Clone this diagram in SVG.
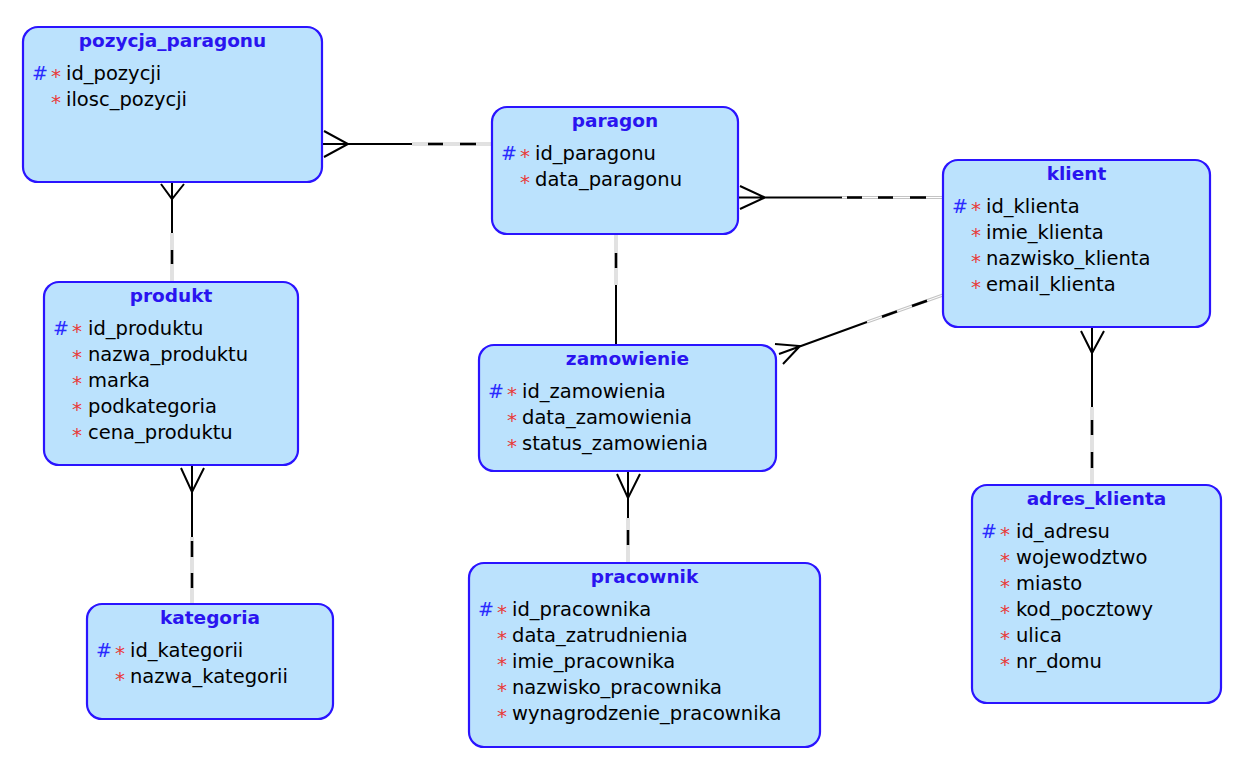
<svg xmlns="http://www.w3.org/2000/svg" width="1248" height="764" viewBox="0 0 1248 764">
<style>
.box{fill:#bbe2fd;stroke:#2a14ff;stroke-width:2.2}
.title{font-family:"DejaVu Sans",sans-serif;font-weight:bold;font-size:18.5px;fill:#2a14f0;text-anchor:middle}
.attr{font-family:"DejaVu Sans",sans-serif;font-size:19.5px;fill:#000}
.hash{font-family:"DejaVu Sans",sans-serif;font-size:19px;fill:#2a2aff}
.star{font-family:"DejaVu Sans",sans-serif;font-size:20px;fill:#e83a3a}
.solid{stroke:#000;stroke-width:2;fill:none}
.optbg{stroke:#c4c4c4;stroke-width:3;fill:none}
.optmid{stroke:#fff;stroke-width:1;fill:none}
.dash{stroke:#000;stroke-width:2.5;fill:none}
</style>
<rect width="1248" height="764" fill="#fff"/>
<g id="connectors">
  <!-- pozycja_paragonu - paragon -->
  <line class="optbg" x1="412" y1="144" x2="492" y2="144"/><line class="optmid" x1="412" y1="144" x2="492" y2="144"/>
  <path class="dash" d="M428,144H443M460,144H476"/>
  <path class="solid" d="M322,144H412M324,131L348,144L324,157"/>
  <!-- paragon - klient -->
  <line class="optbg" x1="842" y1="197.5" x2="943" y2="197.5"/><line class="optmid" x1="842" y1="197.5" x2="943" y2="197.5"/>
  <path class="dash" d="M847,197.5H862M878,197.5H893M910,197.5H926"/>
  <path class="solid" d="M738,197.5H842M740,186L765,197.5L740,209"/>
  <!-- zamowienie - klient -->
  <line class="optbg" x1="867" y1="322" x2="943" y2="295"/><line class="optmid" x1="867" y1="322" x2="943" y2="295"/>
  <path class="dash" d="M882,316.7L897,311.4M912,306L927,300.7"/>
  <path class="solid" d="M779,354L867,322M775,344L800,346L783,364"/>
  <!-- pozycja_paragonu - produkt -->
  <line class="optbg" x1="172" y1="233" x2="172" y2="282"/><line class="optmid" x1="172" y1="233" x2="172" y2="282"/>
  <path class="dash" d="M172,250V264"/>
  <path class="solid" d="M172,182V233M161,184L172,199L184,184"/>
  <!-- paragon - zamowienie -->
  <line class="optbg" x1="616" y1="234" x2="616" y2="285"/><line class="optmid" x1="616" y1="234" x2="616" y2="285"/>
  <path class="dash" d="M616,253V268"/>
  <path class="solid" d="M616,285V345"/>
  <!-- produkt - kategoria -->
  <line class="optbg" x1="192" y1="537" x2="192" y2="604"/><line class="optmid" x1="192" y1="537" x2="192" y2="604"/>
  <path class="dash" d="M192,541V557M192,573V588"/>
  <path class="solid" d="M192,465V537M181,468L192,492L204,468"/>
  <!-- zamowienie - pracownik -->
  <line class="optbg" x1="628" y1="518" x2="628" y2="563"/><line class="optmid" x1="628" y1="518" x2="628" y2="563"/>
  <path class="dash" d="M628,530V545"/>
  <path class="solid" d="M628,471V518M617,474L628,498L640,474"/>
  <!-- klient - adres_klienta -->
  <line class="optbg" x1="1092" y1="407" x2="1092" y2="485"/><line class="optmid" x1="1092" y1="407" x2="1092" y2="485"/>
  <path class="dash" d="M1092,420V435M1092,452V468"/>
  <path class="solid" d="M1092,327V407M1081,331L1092,353L1104,331"/>
</g>
<g id="pozycja_paragonu">
  <rect class="box" x="23" y="27" width="299" height="155" rx="15"/>
  <text class="title" x="172.5" y="47">pozycja_paragonu</text>
  <text class="hash" x="32" y="80">#</text><text class="star" x="51" y="83">*</text><text class="attr" x="66" y="80">id_pozycji</text>
  <text class="star" x="51" y="109">*</text><text class="attr" x="66" y="106">ilosc_pozycji</text>
</g>
<g id="paragon">
  <rect class="box" x="492" y="107" width="246" height="127" rx="15"/>
  <text class="title" x="615" y="127">paragon</text>
  <text class="hash" x="501" y="160">#</text><text class="star" x="520" y="163">*</text><text class="attr" x="535" y="160">id_paragonu</text>
  <text class="star" x="520" y="189">*</text><text class="attr" x="535" y="186">data_paragonu</text>
</g>
<g id="klient">
  <rect class="box" x="943" y="160" width="267" height="167" rx="15"/>
  <text class="title" x="1076.5" y="180">klient</text>
  <text class="hash" x="952" y="213">#</text><text class="star" x="971" y="216">*</text><text class="attr" x="986" y="213">id_klienta</text>
  <text class="star" x="971" y="242">*</text><text class="attr" x="986" y="239">imie_klienta</text>
  <text class="star" x="971" y="268">*</text><text class="attr" x="986" y="265">nazwisko_klienta</text>
  <text class="star" x="971" y="294">*</text><text class="attr" x="986" y="291">email_klienta</text>
</g>
<g id="produkt">
  <rect class="box" x="44" y="282" width="254" height="183" rx="15"/>
  <text class="title" x="171" y="302">produkt</text>
  <text class="hash" x="53" y="335">#</text><text class="star" x="72" y="338">*</text><text class="attr" x="88" y="335">id_produktu</text>
  <text class="star" x="72" y="364">*</text><text class="attr" x="88" y="361">nazwa_produktu</text>
  <text class="star" x="72" y="390">*</text><text class="attr" x="88" y="387">marka</text>
  <text class="star" x="72" y="416">*</text><text class="attr" x="88" y="413">podkategoria</text>
  <text class="star" x="72" y="442">*</text><text class="attr" x="88" y="439">cena_produktu</text>
</g>
<g id="zamowienie">
  <rect class="box" x="479" y="345" width="297" height="126" rx="15"/>
  <text class="title" x="627.5" y="365">zamowienie</text>
  <text class="hash" x="488" y="398">#</text><text class="star" x="507" y="401">*</text><text class="attr" x="522" y="398">id_zamowienia</text>
  <text class="star" x="507" y="427">*</text><text class="attr" x="522" y="424">data_zamowienia</text>
  <text class="star" x="507" y="453">*</text><text class="attr" x="522" y="450">status_zamowienia</text>
</g>
<g id="kategoria">
  <rect class="box" x="87" y="604" width="246" height="115" rx="15"/>
  <text class="title" x="210" y="624">kategoria</text>
  <text class="hash" x="96" y="657">#</text><text class="star" x="115" y="660">*</text><text class="attr" x="130" y="657">id_kategorii</text>
  <text class="star" x="115" y="686">*</text><text class="attr" x="130" y="683">nazwa_kategorii</text>
</g>
<g id="pracownik">
  <rect class="box" x="469" y="563" width="351" height="184" rx="15"/>
  <text class="title" x="644.5" y="583">pracownik</text>
  <text class="hash" x="478" y="616">#</text><text class="star" x="497" y="619">*</text><text class="attr" x="512" y="616">id_pracownika</text>
  <text class="star" x="497" y="645">*</text><text class="attr" x="512" y="642">data_zatrudnienia</text>
  <text class="star" x="497" y="671">*</text><text class="attr" x="512" y="668">imie_pracownika</text>
  <text class="star" x="497" y="697">*</text><text class="attr" x="512" y="694">nazwisko_pracownika</text>
  <text class="star" x="497" y="723">*</text><text class="attr" x="512" y="720">wynagrodzenie_pracownika</text>
</g>
<g id="adres_klienta">
  <rect class="box" x="972" y="485" width="249" height="218" rx="15"/>
  <text class="title" x="1096.5" y="505">adres_klienta</text>
  <text class="hash" x="981" y="538">#</text><text class="star" x="1000" y="541">*</text><text class="attr" x="1016" y="538">id_adresu</text>
  <text class="star" x="1000" y="567">*</text><text class="attr" x="1016" y="564">wojewodztwo</text>
  <text class="star" x="1000" y="593">*</text><text class="attr" x="1016" y="590">miasto</text>
  <text class="star" x="1000" y="619">*</text><text class="attr" x="1016" y="616">kod_pocztowy</text>
  <text class="star" x="1000" y="645">*</text><text class="attr" x="1016" y="642">ulica</text>
  <text class="star" x="1000" y="671">*</text><text class="attr" x="1016" y="668">nr_domu</text>
</g>
</svg>
